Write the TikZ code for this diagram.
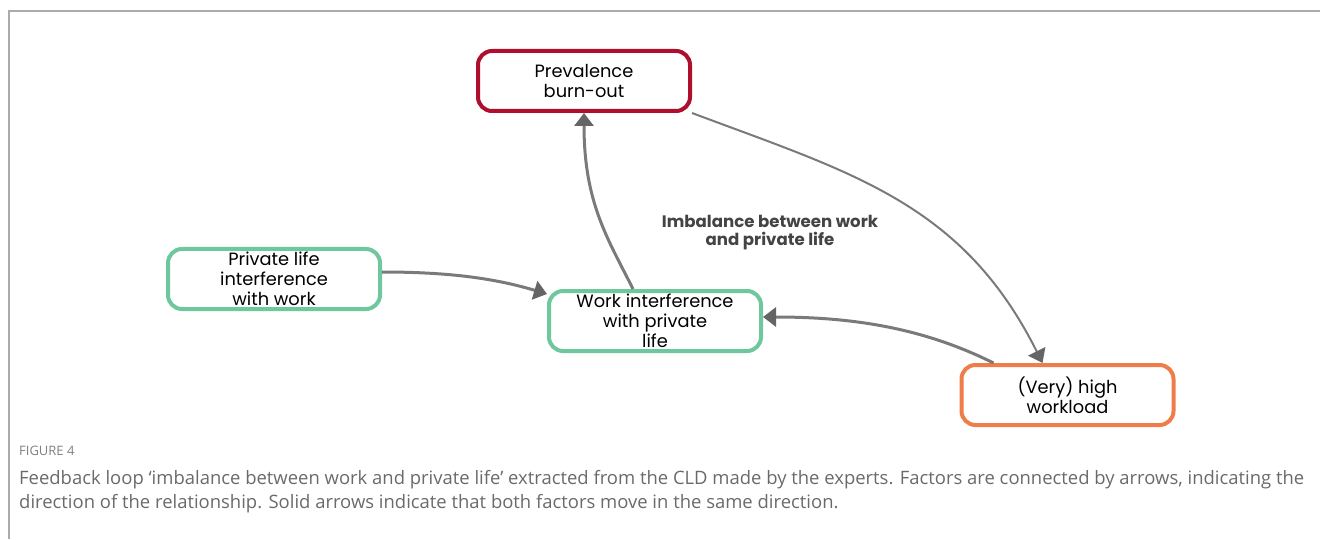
\documentclass[tikz,border=0pt]{standalone}
\usepackage{fontspec}
\setmainfont{Poppins}
\newfontfamily\capfont{Open Sans}
\usetikzlibrary{arrows.meta,calc}
\definecolor{burnred}{HTML}{AE0F2D}
\definecolor{factgreen}{HTML}{6FC79E}
\definecolor{loadorange}{HTML}{EF7D4A}
\definecolor{linkgray}{HTML}{7A7A7A}
\definecolor{headgray}{HTML}{656565}
\definecolor{labelgray}{HTML}{444444}
\definecolor{capgray}{HTML}{6A6A6A}
\definecolor{framegray}{HTML}{ABABAB}
\begin{document}
\begin{tikzpicture}[x=1pt,y=1pt,
  factor/.style={draw, line width=4pt, rounded corners=14pt, fill=white,
    minimum width=212pt, minimum height=60pt, align=center,
    font=\fontsize{17.8}{20}\selectfont, inner sep=2pt},
  link/.style={draw=linkgray, line width=3pt,
    -{Triangle[length=13pt,width=19pt,fill=headgray,color=headgray]}},
  thinlink/.style={link, line width=2pt},
  captext/.style={anchor=west, inner sep=0pt, text=capgray,
    font=\capfont\fontsize{18.45}{20}\selectfont}
]
\useasboundingbox (0,0) rectangle (1320,539);
% page frame
\draw[framegray, line width=1.5pt] (9,0) -- (9,528) -- (1320,528);

% factors
\node[factor, draw=burnred]    (prev) at (584,458)  {Prevalence\\burn-out};
\node[factor, draw=factgreen]  (priv) at (274,260)  {Private life\\interference\\with work};
\node[factor, draw=factgreen]  (work) at (655,218)  {Work interference\\with private\\life};
\node[factor, draw=loadorange] (load) at (1067.5,144) {(Very) high\\workload};

% loop name
\node[text=labelgray, align=center, font=\bfseries\fontsize{16.6}{18}\selectfont]
  (loop) at (770,306) {Imbalance between work\\and private life};

% causal links
\draw[link] ([yshift=7pt]priv.east) .. controls +(70,0) and +(-50,15) ..
  ([yshift=-5pt]work.north west);
\draw[link] ([xshift=-22pt]work.north) .. controls +(-25,50) and +(0,-90) ..
  (prev.south);
\draw[thinlink] (prev.south east) .. controls +(160,-60) and +(-80,160) ..
  ([xshift=-25pt]load.north);
\draw[link] ([xshift=-74pt]load.north) .. controls +(-70,35) and +(90,0) ..
  ([yshift=4pt]work.east);

% caption
\node[captext, text=capgray!85, font=\capfont\fontsize{13}{14}\selectfont] (fig) at (19,88) {FIGURE 4};
\node[captext] (cap1) at (19,59) {Feedback loop ‘imbalance between work and private life’ extracted from the CLD made by the experts. Factors are connected by arrows, indicating the};
\node[captext] (cap2) at (19,35) {direction of the relationship. Solid arrows indicate that both factors move in the same direction.};
\end{tikzpicture}
\end{document}
